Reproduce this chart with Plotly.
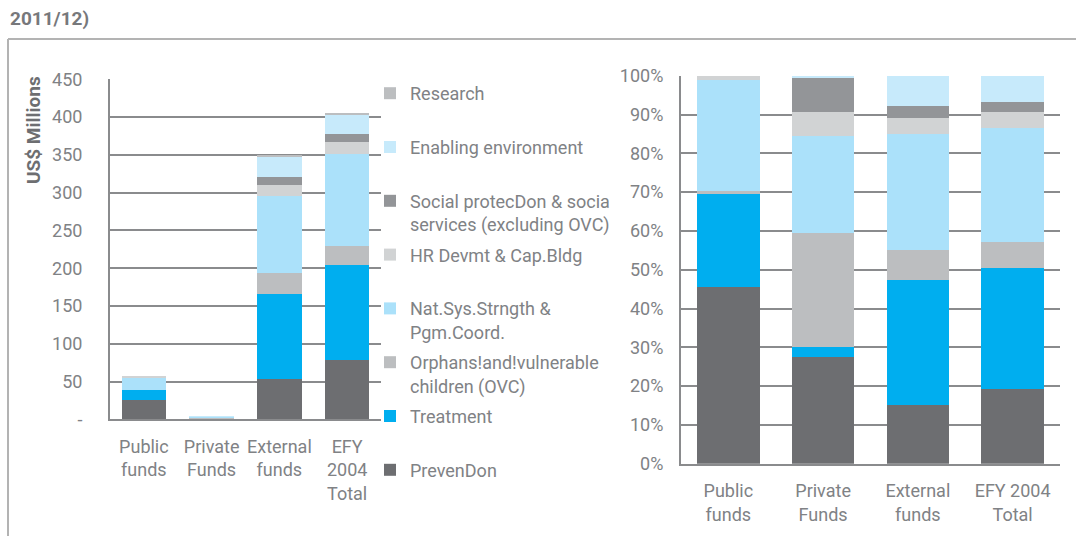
import plotly.graph_objects as go

W, H = 1076, 536

categories_left = ["Public<br>funds", "Private<br>Funds", "External<br>funds", "EFY<br>2004<br>Total"]
categories_right = ["Public<br>funds", "Private<br>Funds", "External<br>funds", "EFY 2004<br>Total"]

series_names = [
    "PrevenDon",
    "Treatment",
    "Orphans!and!vulnerable<br>children (OVC)",
    "Nat.Sys.Strngth &<br>Pgm.Coord.",
    "HR Devmt & Cap.Bldg",
    "Social protecDon & socia<br>services (excluding OVC)",
    "Enabling environment",
    "Research",
]
series_colors = ["#6d6e71", "#00aeef", "#bcbec0", "#abe1fa",
                 "#d1d3d4", "#939598", "#c7eafb", "#bcbec0"]

# US$ millions (left chart)
prevention_abs = [25.5, 0.93, 53, 79]
treatment_abs = [13.5, 0.09, 113, 125]
ovc_abs = [0.4, 1.0, 27, 26]
natsys_abs = [16.0, 0.85, 103, 121]
hr_abs = [0.6, 0.21, 14, 16]
social_abs = [0, 0.3, 10.5, 10.5]
enabling_abs = [0, 0.02, 27, 26]
research_abs = [0, 0, 2, 2.5]

# Percent shares (right chart)
prevention_pct = [45.5, 27.4, 15.1, 19.3]
treatment_pct = [24.1, 2.6, 32.2, 31.2]
ovc_pct = [0.7, 29.4, 7.9, 6.7]
natsys_pct = [28.6, 25.1, 29.9, 29.4]
hr_pct = [1.1, 6.1, 4.0, 4.0]
social_pct = [0, 8.8, 3.1, 2.6]
enabling_pct = [0, 0.6, 7.8, 6.8]
research_pct = [0, 0, 0, 0]

abs_series = [prevention_abs, treatment_abs, ovc_abs, natsys_abs,
              hr_abs, social_abs, enabling_abs, research_abs]
pct_series = [prevention_pct, treatment_pct, ovc_pct, natsys_pct,
              hr_pct, social_pct, enabling_pct, research_pct]

left_ticks = [0, 50, 100, 150, 200, 250, 300, 350, 400, 450]
left_ticktext = ["-"] + [str(v) for v in left_ticks[1:]]
right_ticks = [0, 10, 20, 30, 40, 50, 60, 70, 80, 90, 100]
right_ticktext = [f"{v}%" for v in right_ticks]

TXT = "#808285"
GRID = "#8a8b8d"
FONT = "Roboto"

fig = go.Figure()

n = len(series_names)
for i, name in enumerate(series_names):
    label = name if "<br>" in name else name + "<br> "
    fig.add_trace(go.Bar(
        x=categories_left, y=abs_series[i], name=label,
        marker=dict(color=series_colors[i], line=dict(width=0)),
        legendgroup=f"g{i}", legendrank=n - i,
        xaxis="x", yaxis="y", showlegend=True,
    ))
for i, name in enumerate(series_names):
    fig.add_trace(go.Bar(
        x=categories_right, y=pct_series[i], name=name,
        marker=dict(color=series_colors[i], line=dict(width=0)),
        legendgroup=f"g{i}", legendrank=n - i,
        xaxis="x2", yaxis="y2", showlegend=False,
    ))

xaxis_common = dict(
    showgrid=False, zeroline=False, showline=True, linecolor=GRID, linewidth=2,
    tickfont=dict(family=FONT, size=18, color=TXT), ticks="",
    ticklabelstandoff=10, fixedrange=True,
)
yaxis_common = dict(
    showgrid=True, gridcolor=GRID, gridwidth=2,
    showline=True, linecolor=GRID, linewidth=2, zeroline=False,
    tickfont=dict(family=FONT, size=18, color=TXT), ticks="", fixedrange=True,
)

fig.update_layout(
    width=W, height=H, autosize=False,
    margin=dict(l=0, r=0, t=0, b=0, autoexpand=False),
    paper_bgcolor="white", plot_bgcolor="white",
    barmode="stack", bargap=0.34,
    font=dict(family=FONT, color=TXT, size=18),
    xaxis=dict(domain=[110 / W, 381 / W], anchor="y", **xaxis_common),
    yaxis=dict(domain=[1 - 419.3 / H, 1 - 79.3 / H], anchor="x", range=[0, 450],
               tickvals=left_ticks, ticktext=left_ticktext,
               ticklabelstandoff=22, **yaxis_common),
    xaxis2=dict(domain=[681 / W, 1060 / W], anchor="y2", **xaxis_common),
    yaxis2=dict(domain=[1 - 463.7 / H, 1 - 75.7 / H], anchor="x2", range=[0, 100],
                tickvals=right_ticks, ticktext=right_ticktext,
                ticklabelstandoff=12, **yaxis_common),
    legend=dict(
        x=370 / W, xanchor="left", y=1 - 75 / H, yanchor="top",
        traceorder="grouped", tracegroupgap=4, valign="top",
        font=dict(family=FONT, size=18, color=TXT),
        bgcolor="rgba(0,0,0,0)", itemwidth=30,
    ),
    showlegend=True,
)

# frame lines
fig.add_shape(type="line", xref="paper", yref="paper",
              x0=8 / W, x1=1, y0=1 - 39 / H, y1=1 - 39 / H,
              line=dict(color="#b3b3b3", width=2))
fig.add_shape(type="line", xref="paper", yref="paper",
              x0=8 / W, x1=8 / W, y0=1 - 39 / H, y1=0,
              line=dict(color="#b3b3b3", width=2))

fig.add_annotation(text="<b>2011/12)</b>", xref="paper", yref="paper",
                   x=8 / W, y=1 - 18 / H, xanchor="left", yanchor="middle",
                   showarrow=False, font=dict(family=FONT, size=19, color="#77787b"))
fig.add_annotation(text="<b>US$ Millions</b>", xref="paper", yref="paper",
                   x=33 / W, y=1 - 130 / H, xanchor="center", yanchor="middle",
                   textangle=-90, showarrow=False,
                   font=dict(family=FONT, size=19, color="#6d6e71"))

fig.write_html("out.html",
               config={"displayModeBar": False, "staticPlot": False},
               post_script="document.body.style.margin='0px';document.body.style.overflow='hidden';")
